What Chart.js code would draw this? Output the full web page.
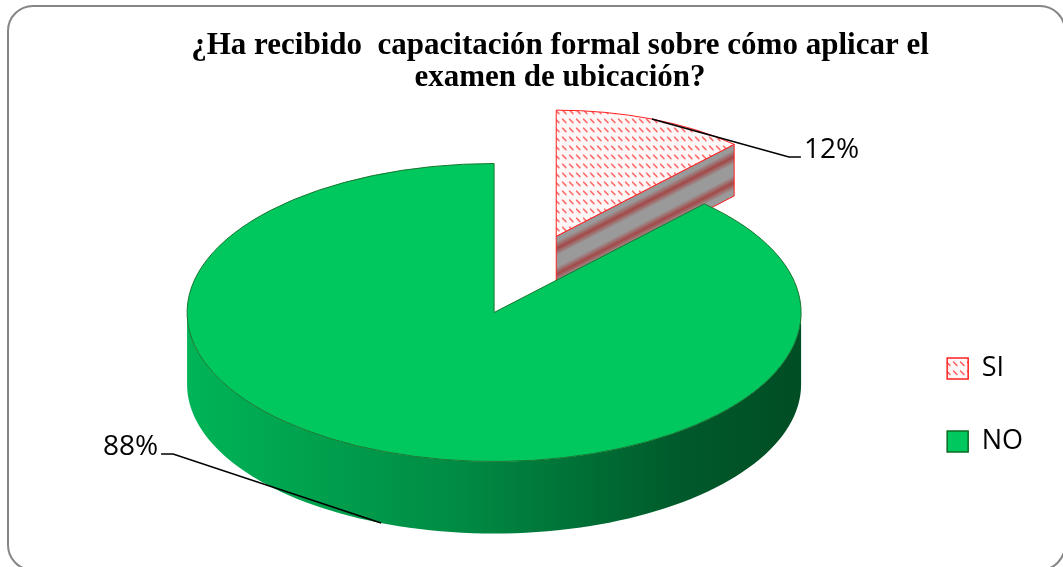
<!DOCTYPE html>
<html>
<head>
<meta charset="utf-8">
<script src="https://cdn.jsdelivr.net/npm/chart.js@4.4.1/dist/chart.umd.min.js"></script>
<style>
html,body{margin:0;padding:0;background:#ffffff;}
#c{display:block;}
</style>
</head>
<body>
<canvas id="c" width="1063" height="567"></canvas>
<script>
// ---------- data ----------
const categories = ['SI', 'NO'];
const values = [12, 88];
const titleLines = ['¿Ha recibido  capacitación formal sobre cómo aplicar el', 'examen de ubicación?'];

// ---------- style ----------
const PIE = { rx: 307, ry: 149, depth: 72, explode: [0.55, 0], persp: 0.3 };
const faceColors = ['#fdf7f7', '#00c85f'];
const outlineColors = ['#ff2020', '#17772f'];
const sideStops = [
  [[0, '#b0b0b0'], [1, '#707070']],
  [[0, '#00b457'], [0.45, '#008a43'], [0.8, '#005a2b'], [1, '#004d24']]
];
const wallStops = [
  [[0, '#9a9a9a'], [0.1, '#9a9a9a'], [0.24, '#a34848'], [0.38, '#9a9a9a'], [0.6, '#9a9a9a'], [0.74, '#a34848'], [0.88, '#9a9a9a'], [1, '#9a9a9a']],
  [[0, '#00a050'], [1, '#006030']]
];
const legendStroke = ['#ff2020', '#0b6b22'];
const LABEL = { offsets: [[137, 38], [-208, -69]], tail: 12, gap: 3, font: '28px "Open Sans"' };

const canvas = document.getElementById('c');
const ctx0 = canvas.getContext('2d');
function makePattern() {
  const c = document.createElement('canvas');
  c.width = 7; c.height = 9;
  const p = c.getContext('2d');
  p.fillStyle = faceColors[0]; p.fillRect(0, 0, 7, 9);
  p.strokeStyle = '#ff5555'; p.lineWidth = 1.4; p.lineCap = 'round';
  p.beginPath(); p.moveTo(1.5, 2); p.lineTo(5, 5.5); p.stroke();
  return ctx0.createPattern(c, 'repeat');
}
const facePattern = makePattern();
const legendPattern = makePattern();
const topFills = [facePattern, faceColors[1]];
const legendFills = [legendPattern, faceColors[1]];

function stopsGradient(g, stops) { stops.forEach(s => g.addColorStop(s[0], s[1])); return g; }

function drawSlice(ctx, g) {
  const { el, i, R, k, sx, sy, d } = g;
  const s = el.startAngle, e = el.endAngle;
  const V = [g.cx, g.cy];
  // radial walls
  const wall = (a) => {
    const P = g.pt(a, false);
    let ux = P[0] - V[0], uy = P[1] - V[1];
    const len = Math.hypot(ux, uy) || 1; ux /= len; uy /= len;
    let nx = -uy, ny = ux;
    if (ny < 0) { nx = -nx; ny = -ny; }
    const L = d * ny;
    const grad = stopsGradient(ctx.createLinearGradient(V[0], V[1], V[0] + nx * L, V[1] + ny * L), wallStops[i]);
    ctx.beginPath();
    ctx.moveTo(V[0], V[1]); ctx.lineTo(P[0], P[1]);
    ctx.lineTo(P[0], P[1] + d); ctx.lineTo(V[0], V[1] + d); ctx.closePath();
    ctx.fillStyle = grad; ctx.fill();
    ctx.strokeStyle = outlineColors[i]; ctx.lineWidth = 1; ctx.stroke();
  };
  if (Math.cos(s) < -1e-6) wall(s);
  if (Math.cos(e) > 1e-6) wall(e);
  // outer side (front half only)
  for (let n = -1; n <= 1; n++) {
    const lo = Math.max(s, 2 * Math.PI * n), hi = Math.min(e, Math.PI + 2 * Math.PI * n);
    if (hi <= lo) continue;
    const steps = 90;
    ctx.beginPath();
    for (let j = 0; j <= steps; j++) {
      const a = lo + (hi - lo) * j / steps; const p = g.pt(a, false);
      j === 0 ? ctx.moveTo(p[0], p[1]) : ctx.lineTo(p[0], p[1]);
    }
    for (let j = steps; j >= 0; j--) {
      const a = lo + (hi - lo) * j / steps; const p = g.pt(a, true);
      ctx.lineTo(p[0], p[1]);
    }
    ctx.closePath();
    const x0 = g.cx - k * sx * R, x1 = g.cx + k * sx * R;
    ctx.fillStyle = stopsGradient(ctx.createLinearGradient(x0, 0, x1, 0), sideStops[i]);
    ctx.fill();
  }
  // top face via the library's own arc element
  ctx.save();
  ctx.translate(g.cx, g.cy);
  ctx.scale(k * sx, k * sy);
  ctx.translate(-el.x, -el.y);
  if (topFills[i] && topFills[i].setTransform) {
    topFills[i].setTransform(new DOMMatrix([1 / (k * sx), 0, 0, 1 / (k * sy), 0, 0]));
  }
  el.draw(ctx);
  ctx.beginPath();
  ctx.moveTo(el.x, el.y);
  ctx.arc(el.x, el.y, R, s, e);
  ctx.closePath();
  ctx.restore();
  ctx.strokeStyle = outlineColors[i]; ctx.lineWidth = 1; ctx.stroke();
}

const pie3d = {
  id: 'pie3d',
  beforeDraw(chart) {
    const ctx = chart.ctx;
    ctx.save();
    ctx.fillStyle = '#ffffff'; ctx.fillRect(0, 0, chart.width, chart.height);
    ctx.beginPath();
    ctx.roundRect(8, 6, 1057, 564, 25);
    ctx.strokeStyle = '#868686'; ctx.lineWidth = 2; ctx.stroke();
    ctx.restore();
  },
  beforeDatasetsDraw(chart) {
    const ctx = chart.ctx;
    const meta = chart.getDatasetMeta(0);
    const geo = meta.data.map((el, i) => {
      const R = el.outerRadius;
      const sx = PIE.rx / R, sy = PIE.ry / R;
      const mid = (el.startAngle + el.endAngle) / 2;
      const ex = PIE.explode[i] * R;
      const k = 1 + PIE.persp * Math.sin(mid) * PIE.explode[i];
      const cx = el.x + sx * Math.cos(mid) * ex, cy = el.y + sy * Math.sin(mid) * ex;
      const d = PIE.depth * k * k;
      const pt = (a, down) => [cx + k * sx * R * Math.cos(a), cy + k * sy * R * Math.sin(a) + (down ? d : 0)];
      return { el, i, R, sx, sy, mid, k, cx, cy, d, pt };
    });
    geo.slice().sort((a, b) => a.cy - b.cy).forEach(g => drawSlice(ctx, g));
    chart.$geo = geo;
    return false;
  },
  afterDraw(chart) {
    const ctx = chart.ctx;
    const geo = chart.$geo || [];
    const data = chart.data.datasets[0].data;
    const total = data.reduce((a, b) => a + b, 0);
    ctx.save();
    geo.forEach(g => {
      const front = Math.sin(g.mid) > 0;
      const A = g.pt(g.mid, front);
      const off = LABEL.offsets[g.i];
      const E = [A[0] + off[0], A[1] + off[1]];
      const dir = off[0] >= 0 ? 1 : -1;
      const H = [E[0] + dir * LABEL.tail, E[1]];
      ctx.beginPath();
      ctx.moveTo(A[0], A[1]); ctx.lineTo(E[0], E[1]); ctx.lineTo(H[0], H[1]);
      ctx.strokeStyle = '#000'; ctx.lineWidth = 1.6; ctx.stroke();
      ctx.fillStyle = '#000';
      ctx.font = LABEL.font;
      ctx.textAlign = dir > 0 ? 'left' : 'right';
      ctx.textBaseline = 'alphabetic';
      ctx.fillText(Math.round(data[g.i] / total * 100) + '%', H[0] + dir * LABEL.gap, E[1] + 1);
    });
    ctx.restore();
  }
};

new Chart(canvas, {
  type: 'pie',
  data: {
    labels: categories,
    datasets: [{ data: values, backgroundColor: topFills, borderWidth: 0 }]
  },
  options: {
    responsive: false,
    animation: false,
    events: [],
    layout: { padding: { left: 87, right: 30, top: 10, bottom: 66 } },
    plugins: {
      title: {
        display: true, text: titleLines, color: '#000',
        font: { family: '"Liberation Serif", "Times New Roman", serif', size: 31, weight: 'bold', lineHeight: '32px' },
        padding: { top: 20, bottom: 30 }
      },
      legend: {
        position: 'right', align: 'end',
        labels: {
          boxWidth: 21, boxHeight: 21, padding: 46, color: '#000',
          font: { family: '"Open Sans", sans-serif', size: 27 },
          generateLabels(chart) {
            const items = Chart.overrides.doughnut.plugins.legend.labels.generateLabels(chart);
            return items.map((it, i) => Object.assign(it, { fillStyle: legendFills[i], strokeStyle: legendStroke[i], lineWidth: 1.5 }));
          }
        }
      },
      tooltip: { enabled: false }
    }
  },
  plugins: [pie3d]
});
</script>
</body>
</html>
